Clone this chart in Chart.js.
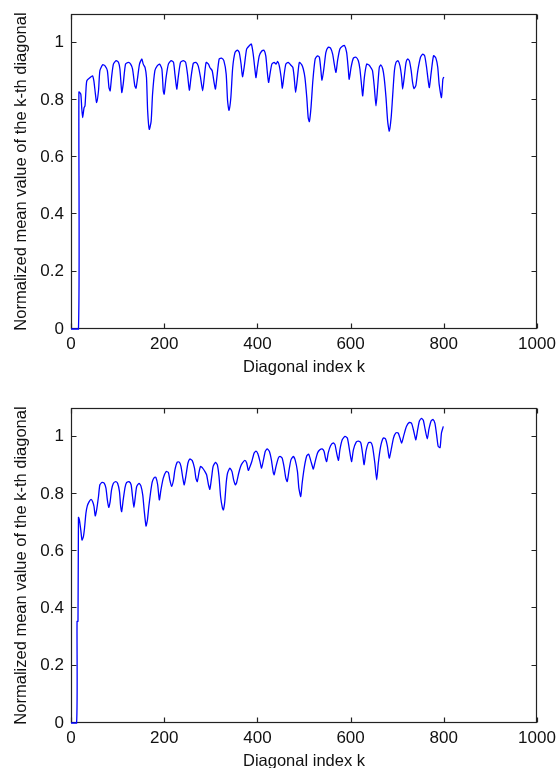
<!DOCTYPE html>
<html><head><meta charset="utf-8">
<script src="https://cdn.jsdelivr.net/npm/chart.js@4/dist/chart.umd.min.js"></script>
<style>
html,body{margin:0;padding:0;background:#fff;width:556px;height:768px;overflow:hidden;position:relative}
canvas{position:absolute;left:0}
#c1{top:0}
#c2{top:384px}
</style></head><body>
<canvas id="c1" width="556" height="384"></canvas>
<canvas id="c2" width="556" height="400"></canvas>
<script>
// ---- data ----
const xTicks = [0, 200, 400, 600, 800, 1000];
const yTicks = [0, 0.2, 0.4, 0.6, 0.8, 1.0];
const xTitle = "Diagonal index k";
const yTitle = "Normalized mean value of the k-th diagonal";

const topK = [0,16,17,21,23,25,28,30,32,34,
 41,46,49,52,55,59,62,68,73,78,
 81.5,84,87,91,97,102,105,109,112,117,
 123,128,132,137,139.5,143,147,152,155,159,
 162,164.5,168,172,175,180,185,190,195,198,
 200,204,209,215,220,223,227,230,235,241,
 246,250,254,257.5,262.5,268,273,278,282.5,286,
 290,295,298,303,307,310,313,318,323,328,
 333,336,339,343,347,352,357,361,365,368,
 372,377,383,387,391,395,397,400,404,409,
 414,418,421,424,427,431,436,440,443.5,447,
 451,453.5,457,461,466,471,476,479,482,486,
 490,495,498.5,502,506,509,511.5,515,519,524,
 529,533,536,538.6,543,547,552,557,561.5,565,
 568.6,572,577,583,587,591.5,595,597,601,606,
 611.6,616.6,620,624,626,629.5,634.5,639.5,643,647,
 651,654.5,658,661.6,665,669,672,676,679.5,683,
 687,690,694,697.4,701.7,706,709.6,711.7,715,719,
 722.4,726,730,733,736,740,744,750,755,759,
 763,767,769,773,778,783,787,790,795,798,
 800];
const topV = [0,0,0.828,0.820,0.773,0.738,0.773,0.779,0.832,0.867,
 0.878,0.884,0.867,0.826,0.791,0.832,0.902,0.923,0.919,0.902,
 0.843,0.832,0.878,0.925,0.937,0.931,0.908,0.826,0.855,0.925,
 0.931,0.925,0.908,0.849,0.841,0.878,0.925,0.943,0.925,0.913,
 0.878,0.761,0.697,0.726,0.820,0.902,0.919,0.925,0.908,0.832,
 0.820,0.878,0.925,0.937,0.931,0.890,0.838,0.878,0.931,0.937,
 0.931,0.890,0.834,0.878,0.928,0.931,0.919,0.878,0.832,0.878,
 0.931,0.925,0.913,0.902,0.861,0.838,0.878,0.943,0.946,0.937,
 0.890,0.797,0.764,0.808,0.913,0.966,0.974,0.966,0.925,0.881,
 0.919,0.978,0.990,0.995,0.960,0.902,0.878,0.914,0.954,0.970,
 0.974,0.954,0.902,0.861,0.890,0.925,0.931,0.925,0.934,0.919,
 0.878,0.841,0.884,0.925,0.931,0.923,0.914,0.878,0.826,0.878,
 0.931,0.923,0.908,0.878,0.808,0.738,0.724,0.773,0.867,0.943,
 0.954,0.949,0.908,0.869,0.914,0.966,0.984,0.981,0.960,0.925,
 0.896,0.937,0.978,0.988,0.990,0.966,0.908,0.872,0.914,0.946,
 0.949,0.937,0.908,0.843,0.814,0.878,0.925,0.922,0.914,0.902,
 0.843,0.779,0.843,0.914,0.922,0.908,0.878,0.808,0.726,0.691,
 0.738,0.808,0.902,0.931,0.937,0.919,0.878,0.838,0.878,0.931,
 0.943,0.937,0.902,0.861,0.840,0.850,0.900,0.949,0.960,0.954,
 0.914,0.861,0.843,0.896,0.954,0.946,0.914,0.855,0.808,0.872,
 0.880];

const botK = [0,12,13,15,16,18,21,23.6,26.5,29,
 32,35,39,43,46.5,49.4,52,55,59,62,
 67,71.5,75,78,81,84,87,91,96,100,
 104,106.6,108.7,112,116,119.5,124.5,129,132,135,
 138,141,146,150,154,157,161,164,167,171,
 174.5,179,182,186,189.6,193,198,204,209,212,
 216,220,223,228,232.5,236,240,243,247,251,
 255,260,265,268,271,275,278,282.5,287.5,291,
 295,298,302,305,310,314,317.6,321,325,327,
 330,333,336,341,345.5,349,352.7,355.5,360,364,
 368,373,377,380.5,384,388,393,397,401,405.6,
 409,413,417,421,425.6,430,434,436,440,445,
 448.5,453,457,461,464,468,472,477,481,486,
 489,493,496,501,506,510,514,518,520,524,
 529,534,539,543,546,548.6,552,557,563,566.5,
 570,574,577,582,588,593,597,602,606,612,
 617,622,626,629,633,638,643,647,652,656,
 659.5,664.5,670,675,679,683,687,692,697,702,
 706,709.6,714.6,720,726,731,734.6,738,740,744,
 747.5,752,756,760,764.6,768,772.5,777,781,785,
 788,792,795,799];
const botV = [0,0,0.355,0.355,0.718,0.709,0.674,0.639,0.650,0.680,
 0.732,0.758,0.773,0.781,0.773,0.756,0.723,0.744,0.791,0.832,
 0.840,0.837,0.820,0.779,0.753,0.773,0.814,0.837,0.843,0.837,
 0.808,0.756,0.738,0.779,0.823,0.840,0.843,0.832,0.791,0.753,
 0.791,0.826,0.837,0.828,0.796,0.744,0.688,0.709,0.756,0.808,
 0.843,0.858,0.858,0.832,0.779,0.814,0.855,0.878,0.875,0.849,
 0.826,0.849,0.884,0.911,0.911,0.896,0.855,0.832,0.867,0.908,
 0.922,0.917,0.890,0.855,0.843,0.878,0.896,0.890,0.878,0.867,
 0.832,0.816,0.861,0.896,0.910,0.902,0.861,0.791,0.750,0.744,
 0.773,0.837,0.873,0.890,0.878,0.849,0.832,0.840,0.873,0.896,
 0.908,0.917,0.908,0.882,0.895,0.913,0.943,0.949,0.940,0.913,
 0.890,0.919,0.949,0.957,0.949,0.919,0.875,0.867,0.896,0.925,
 0.931,0.925,0.896,0.855,0.843,0.884,0.919,0.931,0.919,0.878,
 0.820,0.791,0.837,0.896,0.933,0.939,0.919,0.896,0.887,0.913,
 0.943,0.954,0.957,0.949,0.925,0.913,0.943,0.968,0.978,0.972,
 0.943,0.917,0.954,0.989,1.001,0.995,0.960,0.913,0.954,0.981,
 0.984,0.978,0.937,0.902,0.949,0.978,0.980,0.966,0.908,0.849,
 0.908,0.966,0.995,0.992,0.966,0.925,0.954,0.995,1.013,1.013,
 0.995,0.978,1.007,1.036,1.050,1.046,1.025,1.001,0.989,1.025,
 1.054,1.064,1.057,1.025,0.992,1.025,1.054,1.060,1.046,1.001,
 0.966,0.962,1.013,1.036];

// ---- rendering ----
const FAM = "'Liberation Sans', Arial, sans-serif";
const TICKFONT = {family: FAM, size: 17};
const TITLEFONT = {family: FAM, size: 16.5};
const TXT = '#111111';
const AXC = '#222222';

const boxPlugin = {
  id: 'matlabBox',
  beforeDatasetsDraw(chart) {
    const {ctx, chartArea: a, scales: {x, y}} = chart;
    ctx.save();
    ctx.strokeStyle = AXC;
    ctx.lineWidth = 1.2;
    const L = Math.round(a.left) + 0.5, R = Math.round(a.right) - 0.5;
    const T = Math.round(a.top) + 0.5, B = Math.round(a.bottom) - 0.5;
    ctx.strokeRect(L, T, R - L, B - T);
    ctx.beginPath();
    const tl = 5;
    xTicks.forEach(v => {
      const p = Math.round(x.getPixelForValue(v)) + 0.5;
      ctx.moveTo(p, B); ctx.lineTo(p, B - tl);
      ctx.moveTo(p, T); ctx.lineTo(p, T + tl);
    });
    yTicks.forEach(v => {
      const p = Math.round(y.getPixelForValue(v)) - 0.5;
      ctx.moveTo(L, p); ctx.lineTo(L + tl, p);
      ctx.moveTo(R, p); ctx.lineTo(R - tl, p);
    });
    ctx.stroke();
    ctx.restore();
  }
};

function makeChart(id, ks, vs, cfg) {
  return new Chart(document.getElementById(id), {
    type: 'line',
    data: {
      datasets: [{
        data: ks.map((k, i) => ({x: k, y: vs[i]})),
        borderColor: '#0000ff',
        borderWidth: 1.3,
        pointRadius: 0,
        tension: 0.2,
        fill: false,
        clip: false
      }]
    },
    options: {
      responsive: false,
      animation: false,
      devicePixelRatio: 1,
      layout: {padding: {left: 0, right: 19, top: cfg.top, bottom: 0}},
      plugins: {legend: {display: false}, tooltip: {enabled: false}},
      scales: {
        x: {
          type: 'linear', min: 0, max: 1000,
          afterBuildTicks: s => { s.ticks = xTicks.map(v => ({value: v})); },
          afterFit: s => { s.height = cfg.xh; s.paddingLeft = 0; s.paddingRight = 0; },
          grid: {display: false, drawTicks: false},
          border: {display: false},
          ticks: {padding: cfg.tp, font: TICKFONT, color: TXT, maxRotation: 0, autoSkip: false,
                  callback: v => String(v)},
          title: {display: true, text: xTitle, font: TITLEFONT, color: TXT,
                  padding: {top: 0, bottom: cfg.titlePad}}
        },
        y: {
          type: 'linear', min: 0, max: 1.1,
          afterBuildTicks: s => { s.ticks = yTicks.map(v => ({value: v})); },
          afterFit: s => { s.width = 71; s.paddingTop = 0; s.paddingBottom = 0; },
          grid: {display: false, drawTicks: false},
          border: {display: false},
          ticks: {padding: 7, font: TICKFONT, color: TXT,
                  callback: v => String(Math.round(v * 10) / 10)},
          title: {display: true, text: yTitle, font: TITLEFONT, color: TXT,
                  padding: {top: 11.5, bottom: 0}}
        }
      }
    },
    plugins: [boxPlugin]
  });
}

makeChart('c1', topK, topV, {top: 14, xh: 55, tp: 5, titlePad: 7});
makeChart('c2', botK, botV, {top: 24, xh: 61, tp: 5, titlePad: 13});
</script>
</body></html>
